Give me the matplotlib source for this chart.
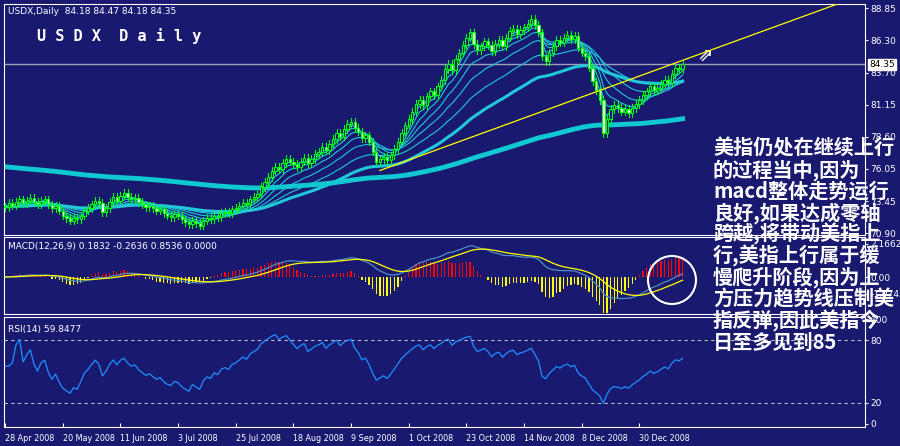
import numpy as np
import pandas as pd
import matplotlib
matplotlib.use("Agg")
import matplotlib.pyplot as plt
from matplotlib.patches import Rectangle, Ellipse

BG = "#191970"

# daily closes, 28 Apr 2008 .. mid Jan 2009
closes = [
    73.0, 73.3, 73.1, 73.4, 73.6, 73.3, 73.5, 73.7, 73.4, 73.2, 73.5, 73.6, 73.2, 72.9, 73.1, 72.7,
    72.3, 72.1, 71.9, 72.1, 72.0, 72.3, 72.7, 72.9, 73.2, 73.5, 73.3, 72.6, 72.9, 73.4, 73.8, 73.5,
    73.9, 74.1, 73.8, 73.6, 73.7, 73.4, 73.2, 73.0, 73.1, 72.9, 72.7, 72.8, 72.5, 72.3, 72.2, 72.4,
    72.3, 72.0, 71.8, 71.6, 71.9, 71.7, 71.5, 71.9, 72.1, 72.0, 72.3, 72.2, 72.5, 72.6, 72.5, 72.8,
    72.9, 73.1, 73.3, 73.2, 73.6, 73.8, 74.0, 74.6, 75.0, 75.4, 75.9, 76.2, 76.0, 76.5, 76.8, 76.6,
    76.4, 76.2, 76.6, 76.9, 76.5, 76.8, 77.2, 77.4, 77.8, 77.5, 78.0, 78.4, 78.9, 78.6, 79.2, 79.6,
    79.8, 79.3, 79.0, 78.5, 78.7, 78.2, 77.4, 76.6, 76.8, 77.0, 76.7, 77.1, 77.6, 78.2, 78.9, 79.5,
    80.0, 80.6, 81.2, 81.5, 81.1, 81.8, 82.2, 81.9, 82.6, 83.1, 84.0, 84.4, 83.9, 84.8, 85.3, 85.9,
    86.5, 86.9, 86.0, 85.5, 85.8, 86.2, 85.9, 85.4, 86.0, 86.3, 85.8, 86.5, 87.0, 87.2, 86.8, 87.1,
    87.3, 87.6, 88.0, 87.5, 86.9, 85.0, 84.6, 85.3, 85.8, 86.3, 86.1, 86.5, 86.7, 86.4, 86.6, 85.7,
    85.3, 85.0, 84.1, 83.0, 82.3, 81.5, 78.9, 80.0, 80.8, 81.1, 80.9, 80.6, 80.8, 80.5, 80.9, 81.2,
    81.5, 81.9, 82.2, 82.6, 82.3, 82.5, 82.8, 83.1, 82.9, 83.6, 84.1, 84.0, 84.35,
]
date_labels = ["28 Apr 2008", "20 May 2008", "11 Jun 2008", "3 Jul 2008", "25 Jul 2008",
               "18 Aug 2008", "9 Sep 2008", "1 Oct 2008", "23 Oct 2008", "14 Nov 2008",
               "8 Dec 2008", "30 Dec 2008"]
price_ticks = [88.85, 86.30, 83.70, 81.15, 78.60, 76.05, 73.45, 70.90]
last_price = 84.35
long_ma_start = 76.2          # level of the slow average at the left edge
trend_bars = [104, 192]
trend_prices = [75.9, 85.1]
comment_lines = ["美指仍处在继续上行", "的过程当中,因为", "macd整体走势运行", "良好,如果达成零轴",
                 "跨越,将带动美指上", "行,美指上行属于缓", "慢爬升阶段,因为上", "方压力趋势线压制美",
                 "指反弹,因此美指今", "日至多见到85"]

c = pd.Series(closes)
o = c.shift(1).fillna(c.iloc[0])
idx = np.arange(len(c))
W, H = 900, 446


def px_axes(x0, y0, x1, y1):
    return fig.add_axes([x0 / W, 1 - y1 / H, (x1 - x0) / W, (y1 - y0) / H])


fig = plt.figure(figsize=(9, 4.46), dpi=100, facecolor=BG)
main = px_axes(4, 4, 865, 235)
mac = px_axes(4, 237, 865, 314)
rsi_ax = px_axes(4, 317, 865, 427)
xl = (-0.3, 238.6)
for ax in (main, mac, rsi_ax):
    ax.set_facecolor(BG)
    ax.set_xlim(*xl)
    for s in ax.spines.values():
        s.set_color("white")
    ax.yaxis.tick_right()
    ax.tick_params(colors="white", labelsize=6.5, length=2, pad=2)
    ax.set_xticks([])

# main chart
main.set_ylim(70.76, 89.17)
main.set_yticks(price_ticks)
main.set_yticklabels([f"{p:.2f}" for p in price_ticks])
main.axhline(last_price, color="#a0a0b8", lw=1)
for p in [3, 5, 8, 13, 21, 34]:
    main.plot(idx, c.ewm(span=p, adjust=False).mean(), color="#20c8d8", lw=0.8)
main.plot(idx, c.ewm(span=55, adjust=False).mean(), color="#20c8d8", lw=2.2)
slow = [long_ma_start]
for v in closes[1:]:
    slow.append(slow[-1] + (v - slow[-1]) * 2 / 201)
main.plot(idx, slow, color="#10c8d0", lw=3.5)
for i in idx:
    hi = max(o[i], c[i]) + 0.3
    lo = min(o[i], c[i]) - 0.3
    main.plot([i, i], [lo, hi], color="#00ff00", lw=0.8, zorder=3)
    up = c[i] >= o[i]
    main.add_patch(Rectangle((i - 0.32, min(o[i], c[i])), 0.64, max(abs(c[i] - o[i]), 0.04),
                             facecolor=BG if up else "white", edgecolor="#00ff00", lw=0.8, zorder=4))
slope = (trend_prices[1] - trend_prices[0]) / (trend_bars[1] - trend_bars[0])
tx = np.array([trend_bars[0], 245])
main.plot(tx, trend_prices[0] + slope * (tx - trend_bars[0]), color="yellow", lw=0.9, zorder=5)
main.text(192, 84.6, "⇗", color="white", fontsize=13, fontweight="bold")
main.annotate(f"{last_price:.2f}", xy=(1.005, last_price), xycoords=("axes fraction", "data"),
              color="black", fontsize=6.5, va="center",
              bbox=dict(boxstyle="square,pad=0.1", fc="white", ec="white"))
main.text(0.005, 0.985, "USDX,Daily  84.18 84.47 84.18 84.35", transform=main.transAxes,
          color="white", fontsize=6.5, va="top")
main.text(0.038, 0.86, "U S D X  D a i l y", transform=main.transAxes, color="white",
          fontsize=11, fontweight="bold", family="DejaVu Sans Mono", va="center")

# MACD
ema12 = c.ewm(span=12, adjust=False).mean()
ema26 = c.ewm(span=26, adjust=False).mean()
macd = ema12 - ema26
signal = macd.ewm(span=9, adjust=False).mean()
hist = (macd - signal) * 3
mac.set_ylim(-2.4, 2.6)
mac.set_yticks([2.1662, 0.0, -1.0745])
mac.set_yticklabels(["2.1662", "0.00", "-1.0745"])
mac.bar(idx, hist, width=0.35, color=["red" if h > 0 else "yellow" for h in hist])
mac.plot(idx, macd, color="#4f8fc0", lw=0.9)
mac.plot(idx, signal, color="yellow", lw=0.9)
mac.text(0.005, 0.93, "MACD(12,26,9) 0.1832 -0.2636 0.8536 0.0000", transform=mac.transAxes,
         color="white", fontsize=6.5, va="top")
fig.add_artist(Ellipse((672 / W, 1 - 280 / H), 48 / W, 48 / H, transform=fig.transFigure,
                       fill=False, ec="white", lw=1.5))

# RSI
d = c.diff().fillna(0)
gain = d.clip(lower=0).ewm(alpha=1 / 14, adjust=False).mean()
loss = (-d.clip(upper=0)).ewm(alpha=1 / 14, adjust=False).mean()
rsi = 100 - 100 / (1 + gain / loss.replace(0, np.nan))
rsi = rsi.fillna(55)
rsi_ax.set_ylim(-3, 102)
rsi_ax.set_yticks([100, 80, 20, 0])
for lvl in (80, 20):
    rsi_ax.axhline(lvl, color="#c0c0c0", lw=0.8, ls=(0, (3, 3)))
rsi_ax.plot(idx, rsi, color="#1e90ff", lw=0.9)
rsi_ax.text(0.005, 0.93, "RSI(14) 59.8477", transform=rsi_ax.transAxes,
            color="white", fontsize=6.5, va="top")
ticks = np.arange(len(date_labels)) * 16
rsi_ax.set_xticks(ticks)
rsi_ax.set_xticklabels(date_labels, ha="left")
rsi_ax.tick_params(axis="x", length=3, direction="in", pad=5, labelsize=5.8)

# comment block
for k, line in enumerate(comment_lines):
    fig.text(713 / W, 1 - (148 + 21.6 * k) / H, line, color="white", fontsize=14.5,
             fontweight="bold", family=["Noto Sans CJK SC", "DejaVu Sans"], va="center")

fig.savefig("out.png", dpi=100, facecolor=BG)
